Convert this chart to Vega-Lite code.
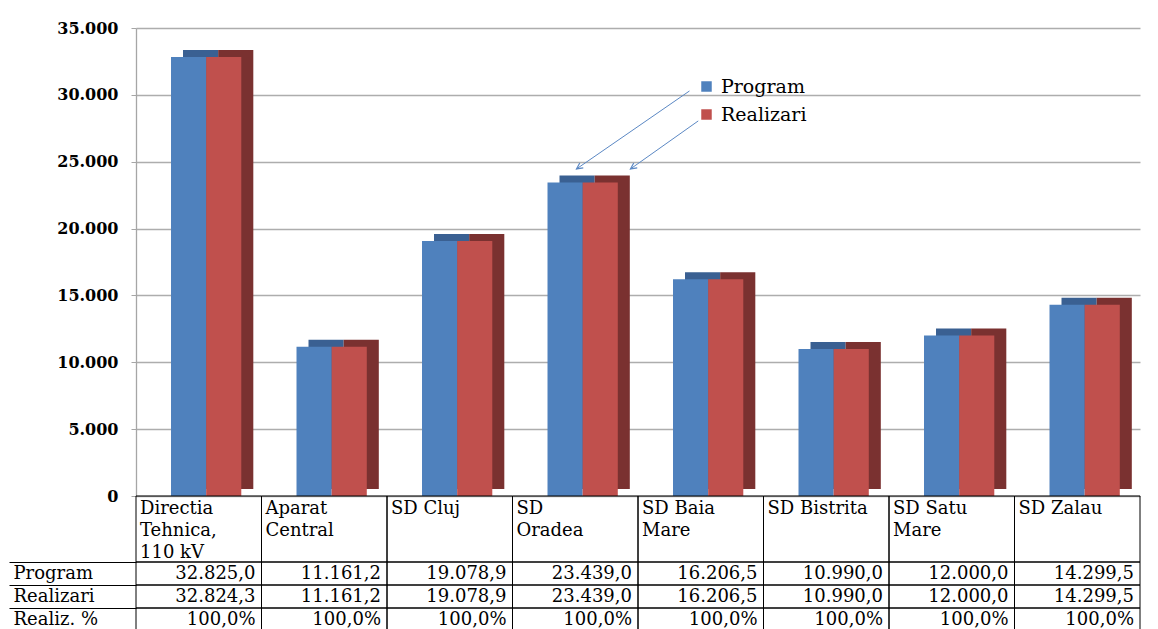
{
  "$schema": "https://vega.github.io/schema/vega-lite/v6.json",
  "autosize": {"type": "pad"},
  "padding": {"left": 8, "top": 20, "right": 5, "bottom": 0},
  "background": "white",
  "config": {"view": {"stroke": null}, "font": "DejaVu Serif"},
  "bounds": "flush",
  "spacing": 0,
  "datasets": {
    "vals": [
      {"cat": "Directia Tehnica, 110 kV", "series": "Program", "value": 32825.0},
      {"cat": "Aparat Central", "series": "Program", "value": 11161.2},
      {"cat": "SD Cluj", "series": "Program", "value": 19078.9},
      {"cat": "SD Oradea", "series": "Program", "value": 23439.0},
      {"cat": "SD Baia Mare", "series": "Program", "value": 16206.5},
      {"cat": "SD Bistrita", "series": "Program", "value": 10990.0},
      {"cat": "SD Satu Mare", "series": "Program", "value": 12000.0},
      {"cat": "SD Zalau", "series": "Program", "value": 14299.5},
      {"cat": "Directia Tehnica, 110 kV", "series": "Realizari", "value": 32824.3},
      {"cat": "Aparat Central", "series": "Realizari", "value": 11161.2},
      {"cat": "SD Cluj", "series": "Realizari", "value": 19078.9},
      {"cat": "SD Oradea", "series": "Realizari", "value": 23439.0},
      {"cat": "SD Baia Mare", "series": "Realizari", "value": 16206.5},
      {"cat": "SD Bistrita", "series": "Realizari", "value": 10990.0},
      {"cat": "SD Satu Mare", "series": "Realizari", "value": 12000.0},
      {"cat": "SD Zalau", "series": "Realizari", "value": 14299.5}
    ],
    "hdr": [
      {"cat": "Directia Tehnica, 110 kV", "line": "h1", "txt": "Directia"},
      {"cat": "Directia Tehnica, 110 kV", "line": "h2", "txt": "Tehnica,"},
      {"cat": "Directia Tehnica, 110 kV", "line": "h3", "txt": "110 kV"},
      {"cat": "Aparat Central", "line": "h1", "txt": "Aparat"},
      {"cat": "Aparat Central", "line": "h2", "txt": "Central"},
      {"cat": "SD Cluj", "line": "h1", "txt": "SD Cluj"},
      {"cat": "SD Oradea", "line": "h1", "txt": "SD"},
      {"cat": "SD Oradea", "line": "h2", "txt": "Oradea"},
      {"cat": "SD Baia Mare", "line": "h1", "txt": "SD Baia"},
      {"cat": "SD Baia Mare", "line": "h2", "txt": "Mare"},
      {"cat": "SD Bistrita", "line": "h1", "txt": "SD Bistrita"},
      {"cat": "SD Satu Mare", "line": "h1", "txt": "SD Satu"},
      {"cat": "SD Satu Mare", "line": "h2", "txt": "Mare"},
      {"cat": "SD Zalau", "line": "h1", "txt": "SD Zalau"}
    ],
    "tbl": [
      {"cat": "Directia Tehnica, 110 kV", "row": "Program", "txt": "32.825,0"},
      {"cat": "Aparat Central", "row": "Program", "txt": "11.161,2"},
      {"cat": "SD Cluj", "row": "Program", "txt": "19.078,9"},
      {"cat": "SD Oradea", "row": "Program", "txt": "23.439,0"},
      {"cat": "SD Baia Mare", "row": "Program", "txt": "16.206,5"},
      {"cat": "SD Bistrita", "row": "Program", "txt": "10.990,0"},
      {"cat": "SD Satu Mare", "row": "Program", "txt": "12.000,0"},
      {"cat": "SD Zalau", "row": "Program", "txt": "14.299,5"},
      {"cat": "Directia Tehnica, 110 kV", "row": "Realizari", "txt": "32.824,3"},
      {"cat": "Aparat Central", "row": "Realizari", "txt": "11.161,2"},
      {"cat": "SD Cluj", "row": "Realizari", "txt": "19.078,9"},
      {"cat": "SD Oradea", "row": "Realizari", "txt": "23.439,0"},
      {"cat": "SD Baia Mare", "row": "Realizari", "txt": "16.206,5"},
      {"cat": "SD Bistrita", "row": "Realizari", "txt": "10.990,0"},
      {"cat": "SD Satu Mare", "row": "Realizari", "txt": "12.000,0"},
      {"cat": "SD Zalau", "row": "Realizari", "txt": "14.299,5"},
      {"cat": "Directia Tehnica, 110 kV", "row": "Realiz. %", "txt": "100,0%"},
      {"cat": "Aparat Central", "row": "Realiz. %", "txt": "100,0%"},
      {"cat": "SD Cluj", "row": "Realiz. %", "txt": "100,0%"},
      {"cat": "SD Oradea", "row": "Realiz. %", "txt": "100,0%"},
      {"cat": "SD Baia Mare", "row": "Realiz. %", "txt": "100,0%"},
      {"cat": "SD Bistrita", "row": "Realiz. %", "txt": "100,0%"},
      {"cat": "SD Satu Mare", "row": "Realiz. %", "txt": "100,0%"},
      {"cat": "SD Zalau", "row": "Realiz. %", "txt": "100,0%"}
    ],
    "arrows": [
      {"x0": 4.41, "y0": 30290, "x1": 3.51, "y1": 24460},
      {"x0": 4.48, "y0": 28050, "x1": 3.94, "y1": 24460}
    ]
  },
  "vconcat": [
    {
      "width": 1004,
      "height": 468,
      "layer": [
        {
          "layer": [
            {
              "data": {"name": "vals"},
              "mark": {"type": "bar", "yOffset": -7, "y2Offset": -7},
              "encoding": {
                "x": {"field": "cat", "type": "nominal", "sort": ["Directia Tehnica, 110 kV", "Aparat Central", "SD Cluj", "SD Oradea", "SD Baia Mare", "SD Bistrita", "SD Satu Mare", "SD Zalau"], "scale": {"paddingInner": 0.44, "paddingOuter": 0.22, "align": 0.634}, "axis": null},
                "xOffset": {"field": "series", "type": "nominal", "scale": {"domain": ["Program", "Realizari"], "range": [12, 82.3], "paddingInner": 0, "paddingOuter": 0}},
                "y": {"field": "value", "type": "quantitative", "scale": {"domain": [0, 35000], "nice": false}},
                "color": {"field": "series", "type": "nominal", "scale": {"domain": ["Program", "Realizari"], "range": ["#3A6092", "#7A3130"]}, "legend": null}
              }
            },
            {
              "data": {"name": "vals"},
              "mark": {"type": "bar"},
              "encoding": {
                "x": {"field": "cat", "type": "nominal", "sort": ["Directia Tehnica, 110 kV", "Aparat Central", "SD Cluj", "SD Oradea", "SD Baia Mare", "SD Bistrita", "SD Satu Mare", "SD Zalau"], "axis": null},
                "xOffset": {"field": "series", "type": "nominal", "scale": {"domain": ["Program", "Realizari"], "paddingInner": 0, "paddingOuter": 0}},
                "y": {
                  "field": "value", "type": "quantitative",
                  "scale": {"domain": [0, 35000], "nice": false},
                  "axis": {
                    "title": null,
                    "values": [0, 5000, 10000, 15000, 20000, 25000, 30000, 35000],
                    "labelExpr": "datum.value == 0 ? '0' : replace(format(datum.value, ',d'), ',', '.')",
                    "labelFont": "DejaVu Serif", "labelFontSize": 16, "labelFontWeight": "bold", "labelColor": "black",
                    "labelPadding": 13, "tickSize": 5, "tickColor": "#A6A6A6", "domainColor": "#A6A6A6", "domainWidth": 1.3,
                    "grid": true, "gridColor": "#ADADAD", "gridWidth": 1.3
                  }
                },
                "color": {
                  "field": "series", "type": "nominal",
                  "scale": {"domain": ["Program", "Realizari"], "range": ["#4F81BD", "#C0504D"]},
                  "legend": {
                    "title": null, "orient": "none", "legendX": 561, "legendY": 49,
                    "symbolType": "square", "symbolSize": 110, "symbolStrokeWidth": 0,
                    "labelFont": "DejaVu Serif", "labelFontSize": 19, "labelColor": "black",
                    "labelOffset": 5, "rowPadding": 8
                  }
                }
              }
            }
          ],
          "resolve": {"scale": {"xOffset": "independent", "color": "independent"}}
        },
        {
          "data": {"name": "arrows"},
          "layer": [
            {
              "mark": {"type": "rule", "color": "#5B88C4", "strokeWidth": 1},
              "encoding": {
                "x": {"field": "x0", "type": "quantitative", "scale": {"domain": [0, 8], "nice": false, "zero": false}, "axis": null},
                "x2": {"field": "x1"},
                "y": {"field": "y0", "type": "quantitative"},
                "y2": {"field": "y1"}
              }
            },
            {
              "mark": {"type": "point", "shape": "M-0.5,1L0,0L0.5,1", "filled": false, "color": "#5B88C4", "strokeWidth": 1.2, "size": 150, "angle": 235, "opacity": 1},
              "encoding": {
                "x": {"field": "x1", "type": "quantitative"},
                "y": {"field": "y1", "type": "quantitative"}
              }
            }
          ]
        }
      ],
      "resolve": {"scale": {"x": "independent"}}
    },
    {
      "width": 1004,
      "height": 66,
      "data": {"name": "hdr"},
      "layer": [
        {
          "transform": [{"filter": "datum.line === 'h1'"}],
          "mark": {"type": "rect", "fill": "white", "fillOpacity": 0, "stroke": "black", "strokeWidth": 1},
          "encoding": {
            "x": {"field": "cat", "type": "nominal", "sort": ["Directia Tehnica, 110 kV", "Aparat Central", "SD Cluj", "SD Oradea", "SD Baia Mare", "SD Bistrita", "SD Satu Mare", "SD Zalau"], "scale": {"paddingInner": 0, "paddingOuter": 0}, "axis": null}
          }
        },
        {
          "mark": {"type": "text", "align": "left", "baseline": "middle", "dx": 4, "dy": 2, "font": "DejaVu Serif", "fontSize": 18, "color": "black"},
          "encoding": {
            "x": {"field": "cat", "type": "nominal", "sort": ["Directia Tehnica, 110 kV", "Aparat Central", "SD Cluj", "SD Oradea", "SD Baia Mare", "SD Bistrita", "SD Satu Mare", "SD Zalau"], "bandPosition": 0},
            "y": {"field": "line", "type": "nominal", "scale": {"type": "band", "domain": ["h1", "h2", "h3"], "paddingInner": 0, "paddingOuter": 0}, "axis": null},
            "text": {"field": "txt"}
          }
        }
      ]
    },
    {
      "width": 1004,
      "height": 69,
      "data": {"name": "tbl"},
      "layer": [
        {
          "mark": {"type": "rect", "fill": "white", "fillOpacity": 0, "stroke": "black", "strokeWidth": 1},
          "encoding": {
            "x": {"field": "cat", "type": "nominal", "sort": ["Directia Tehnica, 110 kV", "Aparat Central", "SD Cluj", "SD Oradea", "SD Baia Mare", "SD Bistrita", "SD Satu Mare", "SD Zalau"], "scale": {"paddingInner": 0, "paddingOuter": 0}, "axis": null},
            "y": {
              "field": "row", "type": "nominal", "sort": ["Program", "Realizari", "Realiz. %"],
              "scale": {"paddingInner": 0, "paddingOuter": 0},
              "axis": {
                "title": null, "bandPosition": 0, "tickSize": 127, "tickColor": "black", "tickWidth": 1, "domain": false,
                "labelAlign": "left", "labelBaseline": "middle", "labelPadding": -4, "labelOffset": 0,
                "labelFont": "DejaVu Serif", "labelFontSize": 18, "labelColor": "black"
              }
            }
          }
        },
        {
          "mark": {"type": "text", "align": "right", "baseline": "middle", "dx": -6, "font": "DejaVu Serif", "fontSize": 18, "color": "black"},
          "encoding": {
            "x": {"field": "cat", "type": "nominal", "sort": ["Directia Tehnica, 110 kV", "Aparat Central", "SD Cluj", "SD Oradea", "SD Baia Mare", "SD Bistrita", "SD Satu Mare", "SD Zalau"], "bandPosition": 1},
            "y": {"field": "row", "type": "nominal", "sort": ["Program", "Realizari", "Realiz. %"]},
            "text": {"field": "txt"}
          }
        }
      ]
    }
  ],
  "resolve": {"scale": {"x": "independent", "y": "independent", "color": "independent"}}
}
